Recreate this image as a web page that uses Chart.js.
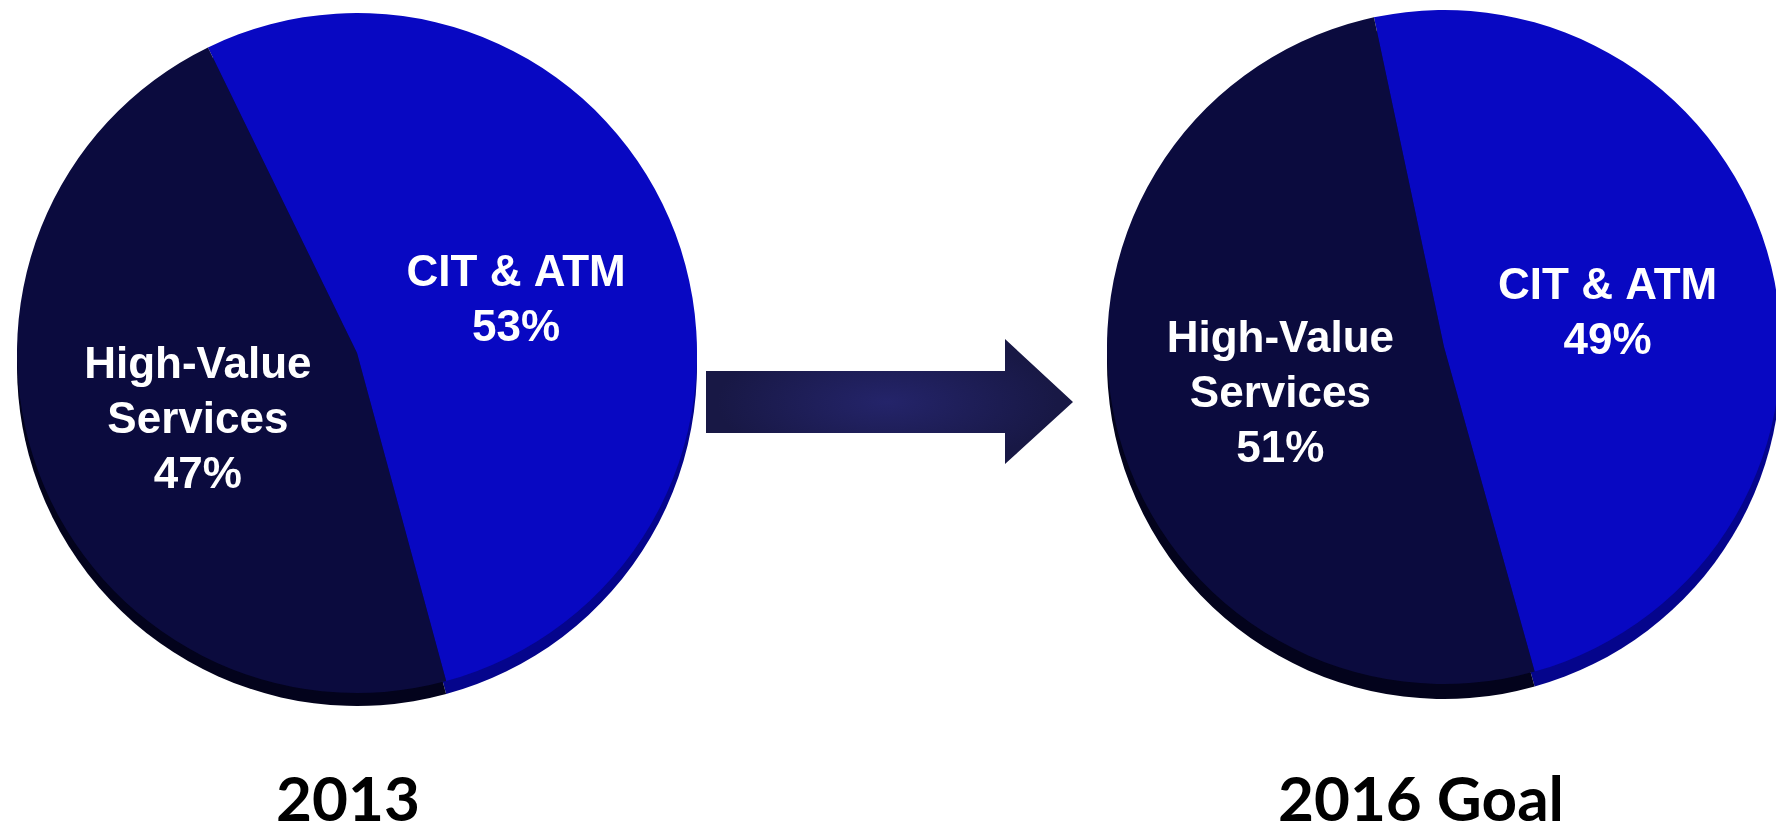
<!DOCTYPE html>
<html>
<head>
<meta charset="utf-8">
<script src="https://cdn.jsdelivr.net/npm/chart.js@4.4.1/dist/chart.umd.min.js"></script>
<style>
    html, body {
        margin: 0;
        padding: 0;
        width: 1776px;
        height: 825px;
        overflow: hidden;
        background: #ffffff;
    }
    canvas {
        position: absolute;
    }
    #pie2013 { left: 17px; top: 13px; }
    #pie2016 { left: 1107px; top: 10px; }
    #arrow {
        position: absolute;
        left: 700px;
        top: 330px;
    }
    .year {
        position: absolute;
        top: 766px;
        width: 400px;
        text-align: center;
        font-family: Lato, "Open Sans", sans-serif;
        font-weight: 700;
        font-size: 62px;
        line-height: 1;
        color: #000;
    }
</style>
</head>
<body>

<canvas id="pie2013" width="680" height="694"></canvas>

<svg id="arrow" width="380" height="140" viewBox="700 330 380 140">
    <defs>
        <radialGradient id="arrowGlow" cx="887" cy="402" r="170" gradientUnits="userSpaceOnUse"
                        gradientTransform="translate(887 402) scale(1 0.4) translate(-887 -402)">
            <stop offset="0" stop-color="#24246a"/>
            <stop offset="1" stop-color="#181845"/>
        </radialGradient>
    </defs>
    <polygon points="706,371 1005,371 1005,339 1073,402 1005,464 1005,433 706,433" fill="url(#arrowGlow)"/>
</svg>

<canvas id="pie2016" width="674" height="690"></canvas>

<div class="year" id="year2013" style="left:148px;"></div>
<div class="year" id="year2016" style="left:1221px;"></div>

<script>
// data
const categories = ['CIT & ATM', 'High-Value Services'];
const labelLines = [['CIT & ATM'], ['High-Value', 'Services']];
const values2013 = [53, 47];
const values2016 = [49, 51];
const years = ['2013', '2016 Goal'];

const sliceColors = ['#0808c2', '#0b0b3e'];
const rimColors = ['#05058c', '#03031c'];

document.getElementById('year2013').textContent = years[0];
document.getElementById('year2016').textContent = years[1];

// dark side under the pie, so it looks a bit 3D
const rimPlugin = {
    id: 'rim',
    beforeDatasetsDraw(chart, args, opts) {
        const ctx = chart.ctx;
        const arcs = chart.getDatasetMeta(0).data;
        arcs.forEach((arc, i) => {
            ctx.save();
            ctx.translate(0, opts.depth);
            ctx.beginPath();
            ctx.moveTo(arc.x, arc.y);
            ctx.arc(arc.x, arc.y, arc.outerRadius, arc.startAngle, arc.endAngle);
            ctx.closePath();
            ctx.fillStyle = rimColors[i];
            ctx.fill();
            ctx.restore();
        });
    }
};

// white text inside each slice: name lines + percent
const sliceLabels = {
    id: 'sliceLabels',
    afterDatasetsDraw(chart) {
        const ctx = chart.ctx;
        const values = chart.data.datasets[0].data;
        const arcs = chart.getDatasetMeta(0).data;
        const lineH = 55;
        ctx.save();
        ctx.fillStyle = '#ffffff';
        ctx.font = 'bold 44px "Liberation Sans", Arial, sans-serif';
        ctx.textAlign = 'center';
        ctx.textBaseline = 'middle';
        arcs.forEach((arc, i) => {
            const pos = arc.getCenterPoint();
            const lines = labelLines[i].concat([values[i] + '%']);
            let y = pos.y + 8 - (lines.length - 1) * lineH / 2;
            lines.forEach(t => {
                ctx.fillText(t, pos.x, y);
                y += lineH;
            });
        });
        ctx.restore();
    }
};

function makePie(id, values, rotation, radius, depth) {
    const ctx = document.getElementById(id).getContext('2d');
    return new Chart(ctx, {
        type: 'pie',
        data: {
            labels: categories,
            datasets: [{
                data: values,
                backgroundColor: sliceColors,
                borderWidth: 0,
                hoverOffset: 0,
                offset: 0
            }]
        },
        options: {
            responsive: false,
            animation: false,
            rotation: rotation,
            radius: radius,
            layout: { padding: { bottom: depth + 1 } },
            events: [],
            plugins: {
                legend: { display: false },
                tooltip: { enabled: false },
                rim: { depth: depth }
            }
        },
        plugins: [rimPlugin, sliceLabels]
    });
}

const chart2013 = makePie('pie2013', values2013, -26, 340, 13);
const chart2016 = makePie('pie2016', values2016, -12, 337, 15);
</script>
</body>
</html>
